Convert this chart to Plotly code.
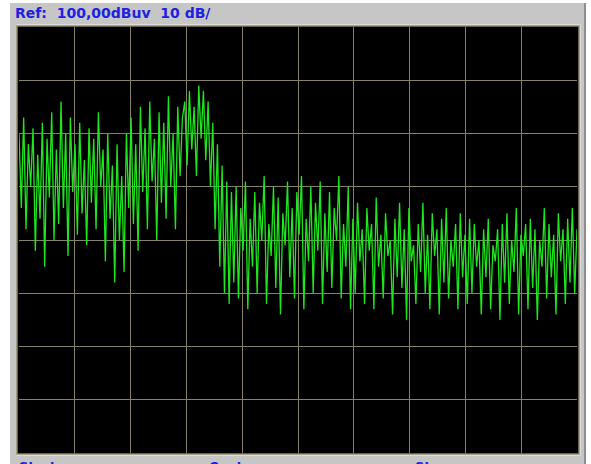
import plotly.graph_objects as go

# Trace levels in dBuV, swept left to right across the span
seg_low_band = [80, 66, 83, 62, 78, 70, 81, 58, 76, 64,
                82, 55, 79, 68, 84, 60, 77, 63, 86, 66,
                80, 57, 83, 69, 78, 61, 82, 65, 75, 59,
                81, 67, 79, 62, 84, 70, 77, 56, 80, 64,
                74, 52, 78, 60, 72, 54, 80, 66, 83, 63,
                78, 58, 85, 69, 81, 62, 86, 71, 79, 60,
                84, 67, 82, 64, 87, 70, 80, 62, 85, 72, 83]
seg_peak = [86, 74, 88, 77, 85, 72, 89, 79, 88, 75, 86, 70]
seg_drop = [82, 62, 78, 55, 74, 50, 71, 48, 69]
seg_mid1 = [52, 70, 49, 66, 58, 71, 47, 64, 55, 69,
            50, 67, 60, 72, 48, 63, 57, 70, 51, 68,
            46, 65, 59, 71, 53, 66, 49, 69, 61, 72,
            47, 64, 56, 70, 50, 67, 58, 71, 48, 65,
            54, 69, 51, 66, 60, 72, 49, 63, 55, 70, 47]
seg_mid2 = [64, 50, 67, 56, 62, 48, 66, 58, 63, 47,
            68, 55, 61, 49, 65, 57, 60, 46, 64, 53,
            67, 51, 62, 45, 66, 56, 59, 48, 63, 54,
            67, 50, 61, 47, 65, 57, 62, 46, 64, 52,
            66, 49, 60, 55, 63, 47, 65, 53, 61, 48, 64]
seg_high_band = [50, 63, 55, 60, 46, 62, 53, 64, 47, 59,
                 56, 62, 45, 63, 52, 65, 48, 60, 54, 66,
                 46, 61, 57, 63, 47, 64, 51, 62, 45, 60,
                 55, 66, 49, 63, 53, 61, 46, 65, 56, 62,
                 48, 64, 52, 66, 50, 62]

level_dbuv = seg_low_band + seg_peak + seg_drop + seg_mid1 + seg_mid2 + seg_high_band
n_pts = len(level_dbuv)
sweep_idx = list(range(n_pts))

ref_level = 100
db_per_div = 10
n_vdiv = 8
n_hdiv = 10
header_text = "Ref:  100,00dBuv  10 dB/"
footer_labels = ["Start:", "Center:", "Stop:"]

W, H = 591, 464
ML, MR, MT, MB = 19, 14, 27, 11
PW, PH = W - ML - MR, H - MT - MB


def px(x):
    return (x - ML) / PW


def py(y):
    return (H - MB - y) / PH


fig = go.Figure()
fig.add_trace(go.Scatter(
    x=sweep_idx, y=level_dbuv, mode="lines",
    line=dict(color="#1ee61e", width=1.3),
    hoverinfo="skip", showlegend=False,
))

x_max = n_pts - 1
fig.update_xaxes(
    range=[0, x_max], showticklabels=False, ticks="",
    tickvals=[x_max * k / n_hdiv for k in range(1, n_hdiv)],
    showgrid=True, gridcolor="#858268", gridwidth=1.2,
    zeroline=False, showline=False, fixedrange=True,
)
fig.update_yaxes(
    range=[ref_level - n_vdiv * db_per_div, ref_level],
    tickvals=[ref_level - k * db_per_div for k in range(1, n_vdiv)],
    showticklabels=False, ticks="",
    showgrid=True, gridcolor="#858268", gridwidth=1.2,
    zeroline=False, showline=False, fixedrange=True,
)

shapes = [
    # instrument panel
    dict(type="rect", xref="paper", yref="paper", layer="below",
         x0=px(10), x1=px(584), y0=py(470), y1=py(3),
         fillcolor="#c6c6c6", line=dict(width=0)),
    dict(type="rect", xref="paper", yref="paper", layer="below",
         x0=px(584), x1=px(586), y0=py(470), y1=py(3),
         fillcolor="#8e8e8e", line=dict(width=0)),
    # bevel highlight around the screen
    dict(type="rect", xref="paper", yref="paper", layer="below",
         x0=px(16.5), x1=px(580.5), y0=py(455.5), y1=py(24.5),
         fillcolor="#f0f0f0", line=dict(width=0)),
    # screen
    dict(type="rect", xref="paper", yref="paper", layer="below",
         x0=px(17), x1=px(579), y0=py(454), y1=py(26),
         fillcolor="#000000", line=dict(color="#8a8760", width=1.5)),
]

annotations = [
    dict(text="<b>" + header_text + "</b>", xref="paper", yref="paper",
         x=px(13), y=py(3), xanchor="left", yanchor="top", showarrow=False,
         font=dict(family="DejaVu Sans", size=14, color="#2020e0")),
]
for lbl, xpos in zip(footer_labels, [17, 207, 413]):
    annotations.append(dict(
        text="<b>" + lbl + "</b>", xref="paper", yref="paper",
        x=px(xpos), y=py(457), xanchor="left", yanchor="top",
        showarrow=False,
        font=dict(family="DejaVu Sans", size=13, color="#2020e0")))

fig.update_layout(
    width=W, height=H,
    margin=dict(l=ML, r=MR, t=MT, b=MB, pad=0),
    paper_bgcolor="#ffffff", plot_bgcolor="#000000",
    shapes=shapes, annotations=annotations,
    showlegend=False,
)

fig.write_html("out.html", config={"displayModeBar": False})
